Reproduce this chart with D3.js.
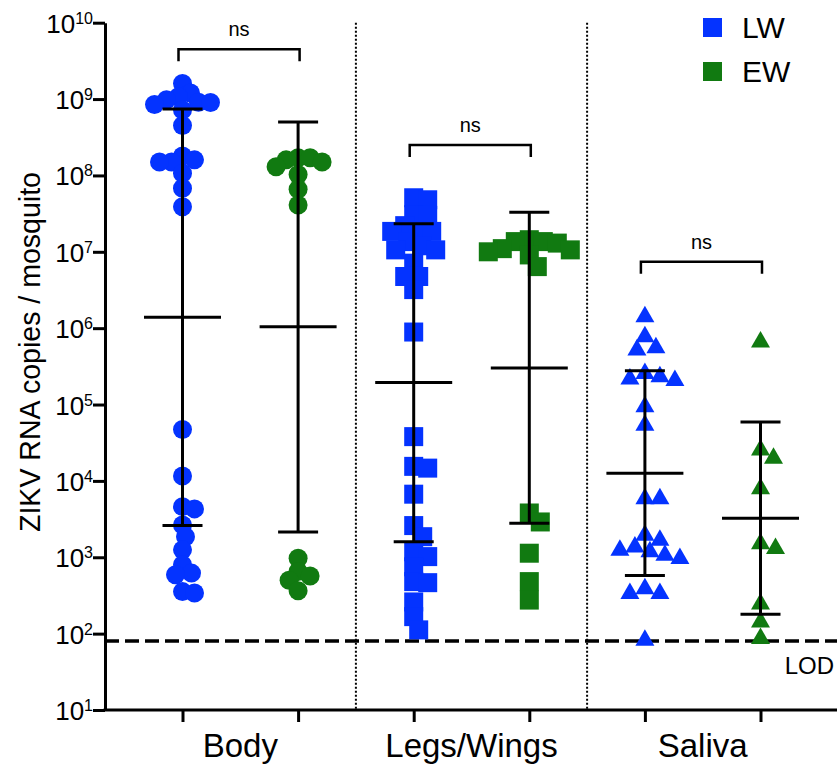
<!DOCTYPE html>
<html>
<head>
<meta charset="utf-8">
<script src="https://cdn.jsdelivr.net/npm/d3@7"></script>
<style>
  body { margin: 0; background: #fff; }
  svg { display: block; font-family: "Liberation Sans", Arial, Helvetica, sans-serif; }
</style>
</head>
<body>
<script>
// values (copies / mosquito)
var categories = ["Body", "Legs/Wings", "Saliva"];
var groups = ["LW", "EW"];

var bodyLW = [1.6e9, 1.2e9, 1.07e9, 9.8e8, 9.1e8, 9e8, 8.5e8, 7.2e8, 4.5e8,
  1.8e8, 1.6e8, 1.5e8, 1.5e8, 1.07e8, 6.8e7, 3.9e7,
  4.7e4, 1.16e4, 4600, 4300, 2650, 1860, 1250, 800, 620, 590, 355, 340];
var bodyEW = [1.7e8, 1.7e8, 1.6e8, 1.5e8, 1.3e8, 1.03e8, 6.6e7, 4.1e7,
  970, 650, 570, 500, 365];
var legsLW = [5.1e7, 4.8e7, 3.06e7, 3.0e7, 2.2e7, 1.85e7, 1.85e7, 1.85e7, 1.36e7, 1.2e7,
  1.06e7, 1.06e7, 7.1e6, 4.75e6, 4.75e6, 3.2e6, 8.9e5,
  3.8e4, 1.55e4, 1.47e4, 6700, 2600, 1860, 1180, 1020, 750, 480, 465, 260, 167, 112];
var legsEW = [1.44e7, 1.36e7, 1.36e7, 1.3e7, 1.1e7, 1.06e7, 1.0e7, 9.1e6, 6.4e6,
  3800, 2900, 1130, 480, 275];
var salivaLW = [1.5e6, 8.2e5, 5.9e5, 5.5e5, 2.7e5, 2.45e5, 2.3e5, 2.2e5, 9.9e4, 5.7e4,
  6200, 6200, 2070, 1780, 1450, 1310, 1250, 1130, 1020, 410, 355, 355, 87];
var salivaEW = [7.0e5, 2.7e4, 2.1e4, 8400, 1600, 1380, 260, 151, 92];

// geometric mean and the ends of the error bars, per category
var meanLW = [1.39e6, 1.94e5, 1.26e4];
var lowLW = [2600, 1600, 575];
var highLW = [7.4e8, 2.33e7, 2.76e5];
var meanEW = [1.04e6, 3.0e5, 3240];
var lowEW = [2150, 2790, 180];
var highEW = [5.0e8, 3.3e7, 5.9e4];

var bracketAt = [4.5e9, 2.5e8, 7.4e6];   // level of the "ns" brackets
var lod = 80;
var yTicks = [1e1, 1e2, 1e3, 1e4, 1e5, 1e6, 1e7, 1e8, 1e9, 1e10];

var colors = ["#0433ff", "#117a11"];
var shapes = ["circle", "square", "triangle"];
var spacing = [12, 14, 15];   // how close two marks may sit in the swarm

var width = 837, height = 764;
var left = 105, right = 837, yTop = 22.7, yBottom = 710;

var svg = d3.select("body").append("svg")
  .attr("width", width)
  .attr("height", height);

var y = d3.scaleLog().domain([10, 1e10]).range([yBottom, yTop]);
var xBand = d3.scaleBand().domain(categories).range([124.7, 818.3]);
var xInner = d3.scalePoint().domain(groups).range([0, xBand.bandwidth()]).padding(0.5);

function colX(ci, gi) { return xBand(categories[ci]) + xInner(groups[gi]); }

var series = [[bodyLW, bodyEW], [legsLW, legsEW], [salivaLW, salivaEW]];
var means = [meanLW, meanEW], lows = [lowLW, lowEW], highs = [highLW, highEW];

// simple dodge so the points do not pile up on each other
function swarm(values, minD) {
  var pts = values.map(function(v) { return {v: v, y: y(v)}; })
    .sort(function(a, b) { return a.y - b.y; });
  var placed = [];
  pts.forEach(function(p) {
    for (var k = 0; k < 400; k++) {
      var off = k === 0 ? 0 : (k % 2 ? (k + 1) / 2 : -k / 2);
      var ok = placed.every(function(q) {
        var dx = q.off - off, dy = q.y - p.y;
        return dx * dx + dy * dy >= minD * minD;
      });
      if (ok) { p.off = off; break; }
    }
    placed.push(p);
  });
  return placed;
}

// separators
svg.selectAll(".sep")
  .data(categories.slice(1))
  .enter().append("line")
  .attr("x1", function(d) { return xBand(d); })
  .attr("x2", function(d) { return xBand(d); })
  .attr("y1", yTop)
  .attr("y2", yBottom)
  .attr("stroke", "#000")
  .attr("stroke-width", 2)
  .attr("stroke-dasharray", "2,2");

// LOD line
svg.append("line")
  .attr("x1", left).attr("x2", right)
  .attr("y1", y(lod)).attr("y2", y(lod))
  .attr("stroke", "#000")
  .attr("stroke-width", 3.5)
  .attr("stroke-dasharray", "14,6");

svg.append("text")
  .attr("x", 834)
  .attr("y", y(lod) + 33)
  .attr("text-anchor", "end")
  .attr("font-size", 24)
  .text("LOD");

// points
var tri = "M0,-9L9.5,7.5L-9.5,7.5Z";
series.forEach(function(pair, ci) {
  pair.forEach(function(vals, gi) {
    var cx = colX(ci, gi);
    var pts = swarm(vals, spacing[ci]);
    var g = svg.append("g").attr("fill", colors[gi]);
    var sel = g.selectAll("x").data(pts).enter();
    if (shapes[ci] === "circle") {
      sel.append("circle")
        .attr("cx", function(d) { return cx + d.off; })
        .attr("cy", function(d) { return d.y; })
        .attr("r", 9.5);
    } else if (shapes[ci] === "square") {
      sel.append("rect")
        .attr("x", function(d) { return cx + d.off - 9.5; })
        .attr("y", function(d) { return d.y - 9.5; })
        .attr("width", 19)
        .attr("height", 19);
    } else {
      sel.append("path")
        .attr("d", tri)
        .attr("transform", function(d) { return "translate(" + (cx + d.off) + "," + d.y + ")"; });
    }
  });
});

// error bars: geometric mean with spread
categories.forEach(function(c, ci) {
  groups.forEach(function(gname, gi) {
    var cx = colX(ci, gi);
    var g = svg.append("g").attr("stroke", "#000").attr("stroke-width", 3);
    g.append("line").attr("x1", cx).attr("x2", cx)
      .attr("y1", y(lows[gi][ci])).attr("y2", y(highs[gi][ci]));
    g.append("line").attr("x1", cx - 20).attr("x2", cx + 20)
      .attr("y1", y(lows[gi][ci])).attr("y2", y(lows[gi][ci]));
    g.append("line").attr("x1", cx - 20).attr("x2", cx + 20)
      .attr("y1", y(highs[gi][ci])).attr("y2", y(highs[gi][ci]));
    g.append("line").attr("x1", cx - 38.5).attr("x2", cx + 38.5)
      .attr("y1", y(means[gi][ci])).attr("y2", y(means[gi][ci]));
  });
});

// ns brackets
categories.forEach(function(c, ci) {
  var x1 = colX(ci, 0) - 4, x2 = colX(ci, 1) + 1.5, by = y(bracketAt[ci]);
  svg.append("path")
    .attr("d", "M" + x1 + "," + (by + 12) + "V" + by + "H" + x2 + "V" + (by + 12))
    .attr("fill", "none")
    .attr("stroke", "#000")
    .attr("stroke-width", 2.5);
  svg.append("text")
    .attr("x", (x1 + x2) / 2)
    .attr("y", by - 13)
    .attr("text-anchor", "middle")
    .attr("font-size", 20)
    .text("ns");
});

// y axis
var yAxis = svg.append("g")
  .attr("transform", "translate(" + left + ",0)")
  .call(d3.axisLeft(y).tickValues(yTicks).tickSize(12).tickSizeOuter(0).tickFormat(""));
yAxis.selectAll("path, line").attr("stroke", "#000").attr("stroke-width", 3);

var tl = svg.append("g").selectAll("text").data(yTicks).enter().append("text")
  .attr("x", 93)
  .attr("y", function(d) { return y(d) + 10; })
  .attr("text-anchor", "end")
  .attr("font-size", 26);
tl.append("tspan").text("10");
tl.append("tspan")
  .attr("font-size", 16)
  .attr("dy", -9)
  .text(function(d) { return Math.round(Math.log10(d)); });

svg.append("text")
  .attr("transform", "translate(40," + 352 + ") rotate(-90)")
  .attr("text-anchor", "middle")
  .attr("font-size", 30)
  .attr("textLength", 360)
  .attr("lengthAdjust", "spacingAndGlyphs")
  .text("ZIKV RNA copies / mosquito");

// x axis
svg.append("line")
  .attr("x1", left - 1.5).attr("x2", right)
  .attr("y1", yBottom).attr("y2", yBottom)
  .attr("stroke", "#000").attr("stroke-width", 3);

var keys = [], keyX = [];
categories.forEach(function(c, ci) {
  groups.forEach(function(gname, gi) { keys.push(c + " " + gname); keyX.push(colX(ci, gi)); });
});
var xCol = d3.scaleOrdinal().domain(keys).range(keyX);
var xAxis = svg.append("g")
  .attr("transform", "translate(0," + yBottom + ")")
  .call(d3.axisBottom(xCol).tickSize(12).tickSizeOuter(0).tickFormat(""));
xAxis.select(".domain").remove();
xAxis.selectAll("line").attr("stroke", "#000").attr("stroke-width", 3);

svg.selectAll(".cat")
  .data(categories)
  .enter().append("text")
  .attr("x", function(d) { return xBand(d) + xBand.bandwidth() / 2; })
  .attr("y", 757)
  .attr("text-anchor", "middle")
  .attr("font-size", 33)
  .text(function(d) { return d; });

// legend
var leg = svg.selectAll(".leg").data(groups).enter().append("g")
  .attr("transform", function(d, i) { return "translate(703," + (18 + i * 44) + ")"; });
leg.append("rect").attr("width", 19).attr("height", 19)
  .attr("fill", function(d, i) { return colors[i]; });
leg.append("text").attr("x", 39).attr("y", 20)
  .attr("font-size", 30)
  .text(function(d) { return d; });
</script>
</body>
</html>
